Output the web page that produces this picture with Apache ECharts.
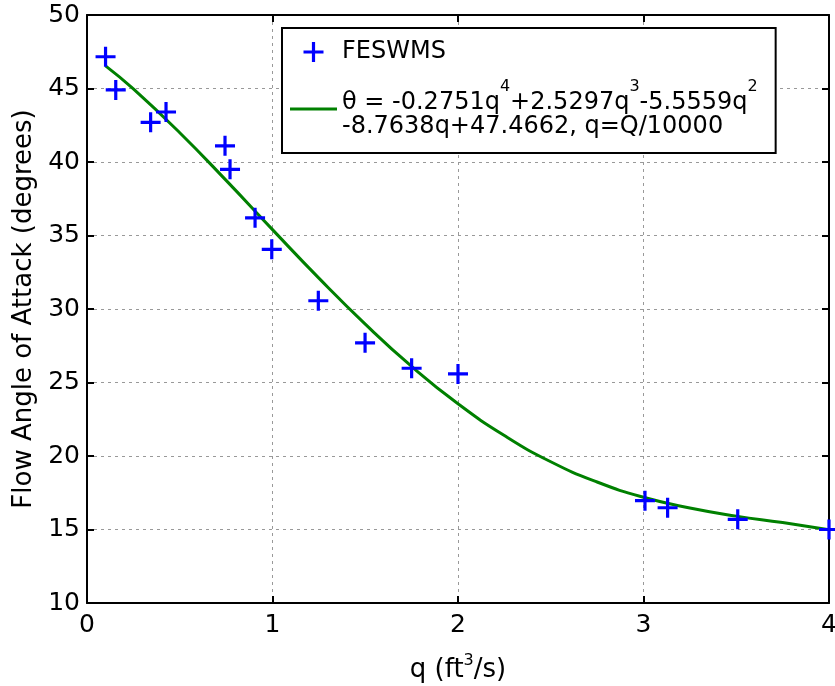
<!DOCTYPE html>
<html>
<head>
<meta charset="utf-8">
<script src="https://cdn.jsdelivr.net/npm/echarts@6/dist/echarts.min.js"></script>
<style>html,body{margin:0;padding:0;background:#fff}#c{width:835px;height:686px}</style>
</head>
<body>
<div id="c"></div>
<script>
// Observed points (FESWMS)
const qObs = [0.1, 0.155, 0.343, 0.426, 0.744, 0.771, 0.906, 0.996, 1.247, 1.499, 1.75, 2.0, 3.008, 3.13, 3.508, 4.0];
const thetaObs = [47.16, 44.9, 42.7, 43.4, 41.1, 39.5, 36.2, 34.06, 30.56, 27.7, 25.97, 25.58, 16.96, 16.48, 15.69, 15.0];
// Fitted curve values
const qFit = [0.1, 0.25, 0.5, 0.75, 1.0, 1.25, 1.5, 1.75, 2.0, 2.25, 2.5, 2.75, 3.0, 3.25, 3.5, 3.75, 4.0];
const thetaFit = [46.54, 44.97, 41.99, 38.75, 35.40, 32.10, 28.97, 26.09, 23.55, 21.39, 19.61, 18.23, 17.19, 16.46, 15.91, 15.47, 14.99];
// Axis ticks
const xTicks = [0, 1, 2, 3, 4];
const yTicks = [10, 15, 20, 25, 30, 35, 40, 45, 50];
const seriesNames = ['FESWMS', 'fit'];

const FONT = '"DejaVu Sans", sans-serif';
const plusPath = 'path://M-1.6,-10H1.6V-1.6H10V1.6H1.6V10H-1.6V1.6H-10V-1.6H-1.6Z';
const linePath = 'path://M0,0H47V3H0Z';

const chart = echarts.init(document.getElementById('c'), null, {renderer: 'canvas'});
const gridLine = {show: true, lineStyle: {color: '#999', type: [3, 4], width: 1}};
const axisCommon = {
  axisLine: {show: true, onZero: false, lineStyle: {color: '#000', width: 2}},
  axisTick: {show: true, inside: true, length: 7, lineStyle: {color: '#000', width: 2}},
};
chart.setOption({
  animation: false,
  backgroundColor: '#fff',
  textStyle: {fontFamily: FONT},
  grid: {left: 87, right: 6, top: 15, bottom: 83, containLabel: false, outerBoundsMode: 'none'},
  legend: {
    orient: 'vertical',
    left: 282, top: 28,
    padding: [12, 18, 14, 8],
    itemGap: 15,
    itemWidth: 47, itemHeight: 20,
    borderColor: '#000', borderWidth: 2,
    backgroundColor: '#fff',
    symbolKeepAspect: true,
    textStyle: {
      fontFamily: FONT, fontSize: 24, color: '#000',
      rich: {
        a: {fontFamily: FONT, fontSize: 24, color: '#000', lineHeight: 26},
        n: {fontFamily: FONT, fontSize: 24, color: '#000', lineHeight: 36, verticalAlign: 'bottom'},
        m: {fontFamily: FONT, fontSize: 24, color: '#000', lineHeight: 24},
        s: {fontFamily: FONT, fontSize: 16, color: '#000', verticalAlign: 'top'}
      }
    },
    formatter: function (name) {
      if (name === 'FESWMS') return '{a|FESWMS}';
      return '{n|θ = -0.2751q}{s|4}{n|+2.5297q}{s|3}{n|-5.5559q}{s|2}\n{m|-8.7638q+47.4662, q=Q/10000}';
    },
    data: [
      {name: seriesNames[0], icon: plusPath},
      {name: seriesNames[1], icon: linePath}
    ]
  },
  xAxis: [{
    type: 'value', min: 0, max: 4, interval: 1, position: 'bottom',
    name: '{n|q (ft}{s|3}{n|/s)}', nameLocation: 'middle', nameGap: 50,
    nameTextStyle: {
      fontFamily: FONT, fontSize: 26, color: '#000',
      rich: {
        n: {fontFamily: FONT, fontSize: 26, color: '#000', lineHeight: 30, verticalAlign: 'bottom'},
        s: {fontFamily: FONT, fontSize: 16, color: '#000', verticalAlign: 'top'}
      }
    },
    axisLabel: {fontFamily: FONT, fontSize: 25, color: '#000', margin: 10,
      formatter: v => xTicks.includes(v) ? String(v) : ''},
    splitLine: gridLine,
    ...axisCommon
  }, {
    type: 'value', min: 0, max: 4, interval: 1, position: 'top',
    axisLabel: {show: false}, splitLine: {show: false},
    ...axisCommon
  }],
  yAxis: [{
    type: 'value', min: 10, max: 50, interval: 5, position: 'left',
    name: 'Flow Angle of Attack (degrees)', nameLocation: 'middle', nameGap: 45,
    nameTextStyle: {fontFamily: FONT, fontSize: 26, color: '#000'},
    axisLabel: {fontFamily: FONT, fontSize: 25, color: '#000', margin: 7,
      formatter: v => yTicks.includes(v) ? String(v) : ''},
    splitLine: gridLine,
    ...axisCommon
  }, {
    type: 'value', min: 10, max: 50, interval: 5, position: 'right',
    axisLabel: {show: false}, splitLine: {show: false},
    ...axisCommon
  }],
  series: [{
    name: seriesNames[1],
    type: 'line',
    data: qFit.map((q, i) => [q, thetaFit[i]]),
    smooth: true,
    symbol: 'none',
    lineStyle: {color: '#008000', width: 3},
    itemStyle: {color: '#008000'},
    z: 2
  }, {
    name: seriesNames[0],
    type: 'scatter',
    data: qObs.map((q, i) => [q, thetaObs[i]]),
    symbol: plusPath,
    symbolSize: 20,
    symbolKeepAspect: true,
    itemStyle: {color: '#0000ff', opacity: 1},
    z: 3
  }]
});
</script>
</body>
</html>
